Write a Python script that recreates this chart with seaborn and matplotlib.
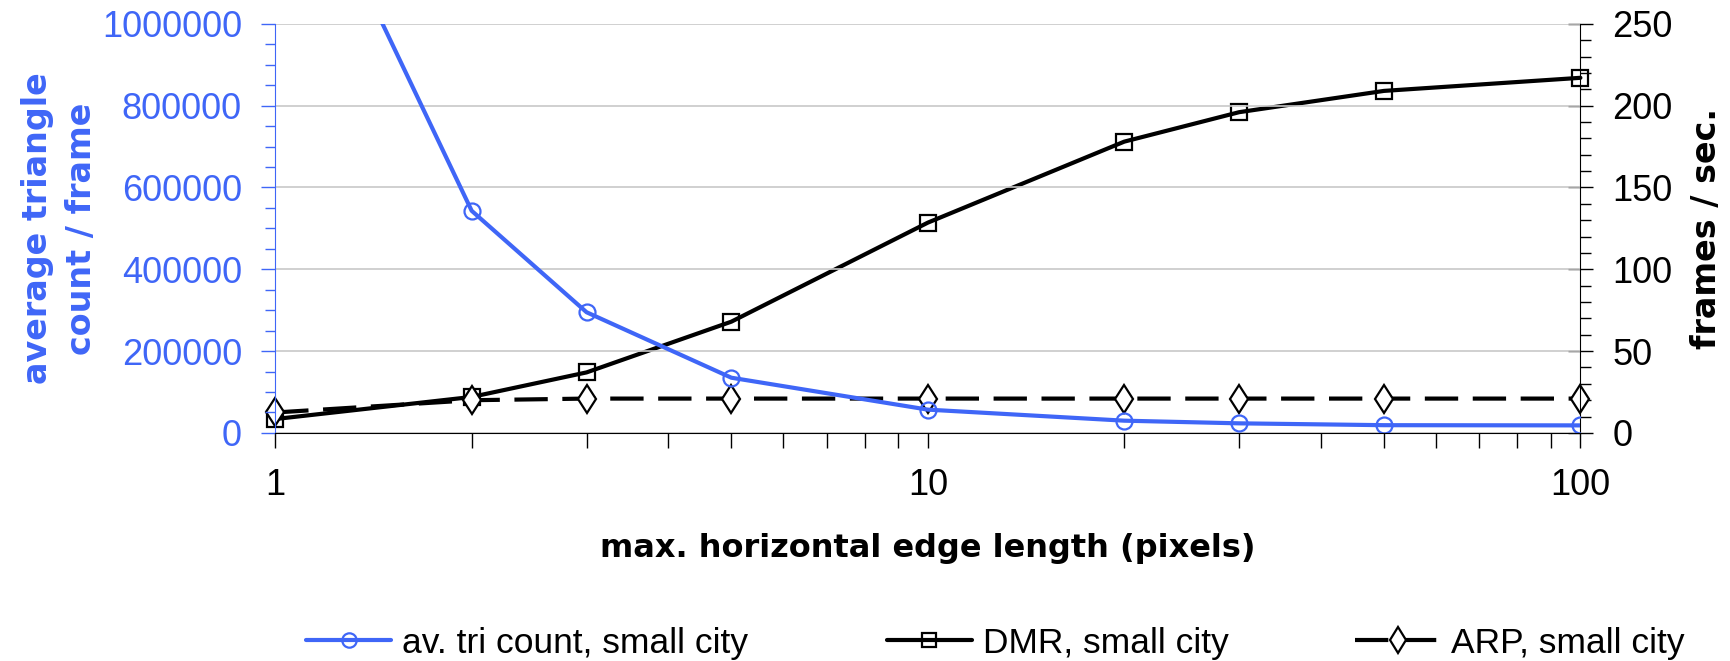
# triangle count vs frame rate, dual axis line chart

import matplotlib
matplotlib.use("Agg")
import matplotlib.pyplot as plt
import seaborn as sns
from matplotlib.ticker import MultipleLocator, FixedLocator, NullFormatter, StrMethodFormatter

# data
edge_len = [1, 2, 3, 5, 10, 20, 30, 50, 100]
tri_count = [1550000, 543000, 295000, 135000, 57000, 30000, 23500, 19000, 18500]
dmr_fps = [8.5, 22, 37, 68, 128.5, 178, 196, 209, 217]
arp_fps = [12.5, 20, 21, 21, 21, 21, 21, 21, 21]

series_labels = ["av. tri count, small city", "DMR, small city", "ARP, small city"]
x_label = "max. horizontal edge length (pixels)"
left_label = "average triangle\ncount / frame"
right_label = "frames / sec."

BLUE = "#3F66F7"


def main():
    sns.set_style("white")
    plt.rcParams["font.family"] = ["Liberation Sans", "DejaVu Sans"]
    plt.rcParams["text.color"] = "black"
    plt.rcParams["axes.labelcolor"] = "black"
    plt.rcParams["xtick.color"] = "black"
    plt.rcParams["ytick.color"] = "black"

    fig = plt.figure(figsize=(17.31, 6.61), dpi=100)
    ax = fig.add_axes([0.159, 0.345, 0.754, 0.619])
    ax2 = ax.twinx()

    # left axis: triangle count
    sns.lineplot(x=edge_len, y=tri_count, ax=ax, color=BLUE, lw=3.0,
                 marker="o", markersize=11.5, markerfacecolor="none",
                 markeredgecolor=BLUE, markeredgewidth=1.6,
                 label=series_labels[0], legend=False)

    # right axis: frame rates
    sns.lineplot(x=edge_len, y=dmr_fps, ax=ax2, color="black", lw=3.0,
                 marker="s", markersize=11, markerfacecolor="none",
                 markeredgecolor="black", markeredgewidth=1.6,
                 label=series_labels[1], legend=False, clip_on=False)
    sns.lineplot(x=edge_len, y=arp_fps, ax=ax2, color="black", lw=3.0,
                 marker="d", markersize=14.5, markerfacecolor="white",
                 markeredgecolor="black", markeredgewidth=1.6,
                 label=series_labels[2], legend=False, clip_on=False)
    ax2.lines[-1].set_dashes((8, 3.5))

    ax.set_xscale("log")
    ax.set_xlim(1, 100)
    ax.set_ylim(0, 1000000)
    ax2.set_ylim(0, 250)

    ax.yaxis.set_major_locator(MultipleLocator(200000))
    ax.yaxis.set_minor_locator(MultipleLocator(50000))
    ax.yaxis.set_major_formatter(StrMethodFormatter("{x:.0f}"))
    ax2.yaxis.set_major_locator(MultipleLocator(50))
    ax2.yaxis.set_minor_locator(MultipleLocator(10))
    ax.xaxis.set_major_locator(FixedLocator([1, 10, 100]))
    ax.set_xticklabels(["1", "10", "100"])
    ax.xaxis.set_minor_locator(FixedLocator([2, 3, 4, 5, 6, 7, 8, 9, 20, 30, 40, 50, 60, 70, 80, 90]))
    ax.xaxis.set_minor_formatter(NullFormatter())

    ax.grid(axis="y", color="#c8c8c8", lw=1.2)
    ax.set_axisbelow(True)

    for a in (ax, ax2):
        a.spines["top"].set_visible(False)
    ax.spines["right"].set_visible(False)
    ax.spines["left"].set_color(BLUE)
    ax.spines["bottom"].set_color("black")
    ax2.spines["left"].set_visible(False)
    ax2.spines["bottom"].set_visible(False)
    ax2.spines["right"].set_color("black")

    ax.tick_params(axis="y", which="major", colors=BLUE, labelsize=26, length=10, width=1,
                   direction="out", pad=14)
    ax.tick_params(axis="y", which="minor", color=BLUE, length=7, width=1, direction="out", left=True)
    ax.tick_params(axis="x", which="major", labelsize=26, length=11, width=1, direction="out", pad=14, bottom=True)
    ax.tick_params(axis="x", which="minor", length=11, width=1, direction="out", bottom=True)
    ax2.tick_params(axis="y", which="major", labelsize=26, length=18, width=1, direction="inout",
                    right=True, pad=14)
    ax2.tick_params(axis="y", which="minor", length=8, width=1, direction="out", right=True)

    ax.set_xlabel(x_label, fontsize=23, fontweight="bold", family="DejaVu Sans", labelpad=22)
    ax.set_ylabel(left_label, fontsize=24, fontweight="bold", family="DejaVu Sans",
                  color=BLUE, linespacing=1.4)
    ax.yaxis.set_label_coords(-0.136, 0.5)
    ax2.set_ylabel(right_label, fontsize=24, fontweight="bold", family="DejaVu Sans")
    ax2.yaxis.set_label_coords(1.084, 0.5)

    # put the blue series above the black ones
    ax.set_zorder(ax2.get_zorder() + 1)
    ax.patch.set_visible(False)

    # legend entries sit in evenly spaced slots along the bottom
    handles = ax.get_lines()[:1] + ax2.get_lines()
    slot_x = [0.1768, 0.5124, 0.7828]
    for h, lab, x0 in zip(handles, series_labels, slot_x):
        fig.legend([h], [lab], loc="center left", bbox_to_anchor=(x0, 0.027),
                   frameon=False, fontsize=25.5, handlelength=2.4, handletextpad=0.3,
                   borderpad=0, borderaxespad=0, markerscale=0.9)

    fig.savefig("out.png", dpi=100)


if __name__ == "__main__":
    main()
